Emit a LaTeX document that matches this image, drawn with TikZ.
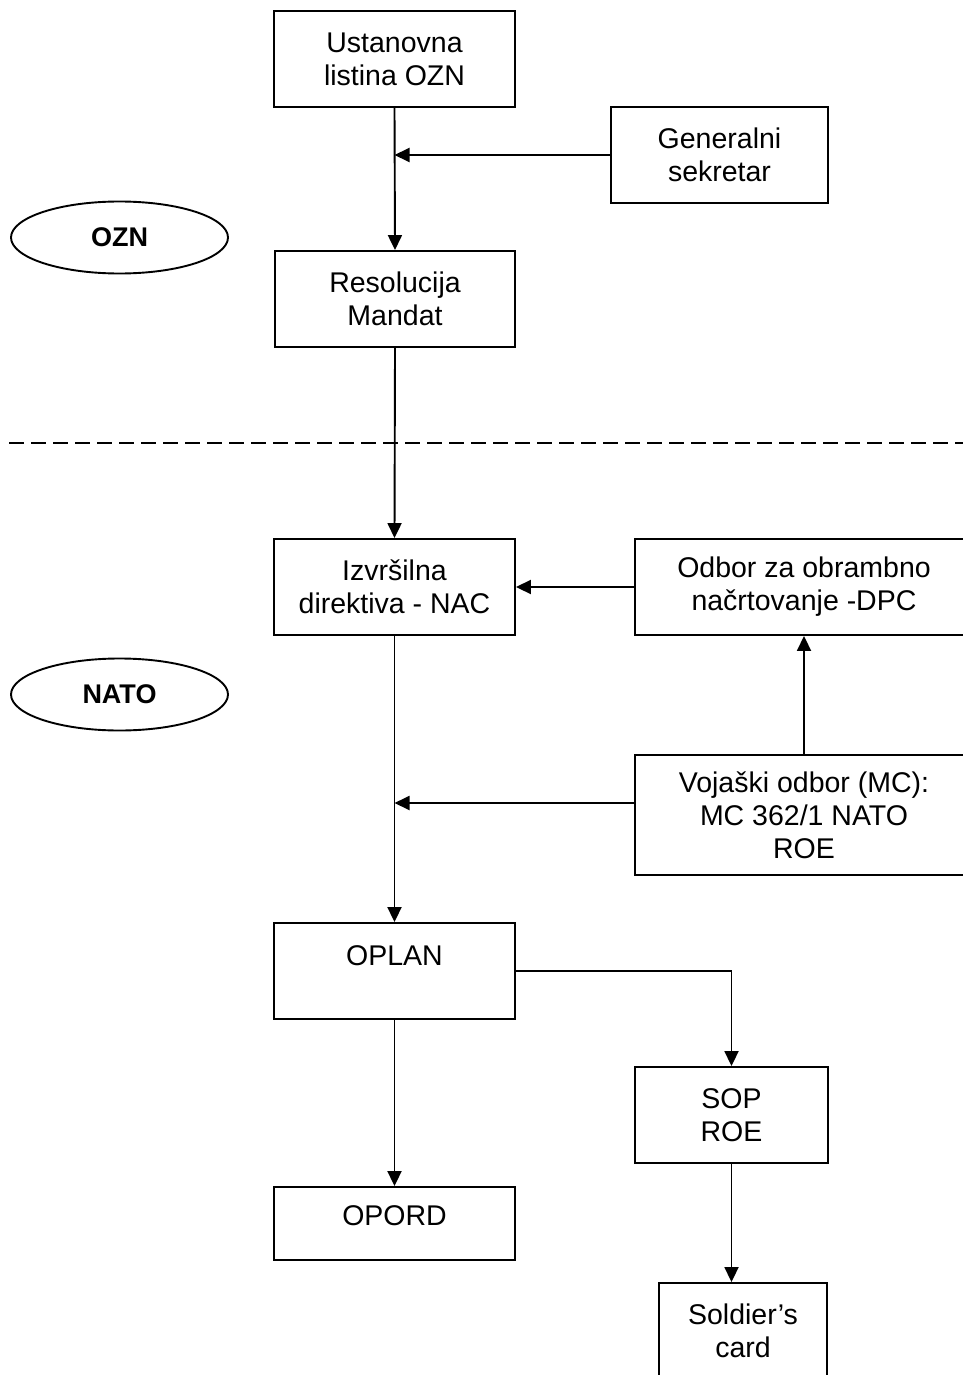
\documentclass[tikz,border=0pt]{standalone}
\usepackage{fontspec}
\setmainfont{Liberation Sans}
\usetikzlibrary{arrows.meta,shapes.geometric}
\begin{document}
\begin{tikzpicture}[x=1pt,y=-1pt,
  line width=1.9pt,
  box/.style={draw, rectangle, align=center, inner sep=0pt,
    font=\fontsize{28.5}{33}\selectfont, minimum height=96pt},
  oval/.style={draw, ellipse, inner sep=0pt, minimum width=217pt,
    minimum height=72pt, font=\fontsize{27}{32}\selectfont\bfseries},
  arr/.style={-{Triangle[length=15pt,width=14pt]}},
  sep/.style={line width=2.4pt, dash pattern=on 15pt off 7pt}]
\useasboundingbox (0,0) rectangle (963,1375);
\clip (0,0) rectangle (963,1375);
% boxes
\node[box, minimum width=241pt] (ust) at (394.5,59) {Ustanovna\\listina OZN};
\node[box, minimum width=217pt] (gen) at (719.5,155) {Generalni\\sekretar};
\node[box, minimum width=240pt] (res) at (395,299) {Resolucija\\Mandat};
\node[box, minimum width=241pt] (izv) at (394.5,587) {Izvršilna\\direktiva - NAC};
\node[box, minimum width=338pt] (odb) at (804,587) {Odbor za obrambno\\načrtovanje -DPC};
\node[box, minimum width=338pt, minimum height=120pt] (voj) at (804,815) {Vojaški odbor (MC):\\MC 362/1 NATO\\ROE};
\node[box, minimum width=241pt] (oplan) at (394.5,971) {OPLAN\\[-3pt]\mbox{}};
\node[box, minimum width=193pt] (sop) at (731.5,1115) {SOP\\ROE};
\node[box, minimum width=241pt, minimum height=73pt] (opord) at (394.5,1223.5) {OPORD\\[-18pt]\mbox{}};
\node[box, minimum width=168pt] (sold) at (743,1331) {Soldier’s\\card};
% ovals
\node[oval] (ozn) at (119.5,237.5) {OZN};
\node[oval] (nato) at (119.5,694.5) {NATO};
% separator
\coordinate (sepL) at (9,443);
\coordinate (sepR) at (963,443);
\draw[sep] (sepL) -- (sepR);
% connectors
\draw[arr] (ust.south) -- (res.north);
\draw[arr] (gen.west) -- (gen.west -| ust.south);
\draw[arr] (res.south) -- (izv.north);
\draw[arr] (odb.west) -- (izv.east);
\draw[arr] (izv.south) -- (oplan.north);
\draw[arr] (voj.north) -- (odb.south);
\draw[arr] ([yshift=12pt]voj.west) -- ([yshift=12pt]voj.west -| izv.south);
\draw[arr] (oplan.east) -| (sop.north);
\draw[arr] (oplan.south) -- (opord.north);
\draw[arr] (sop.south) -- (sop.south |- sold.north);
\end{tikzpicture}
\end{document}
